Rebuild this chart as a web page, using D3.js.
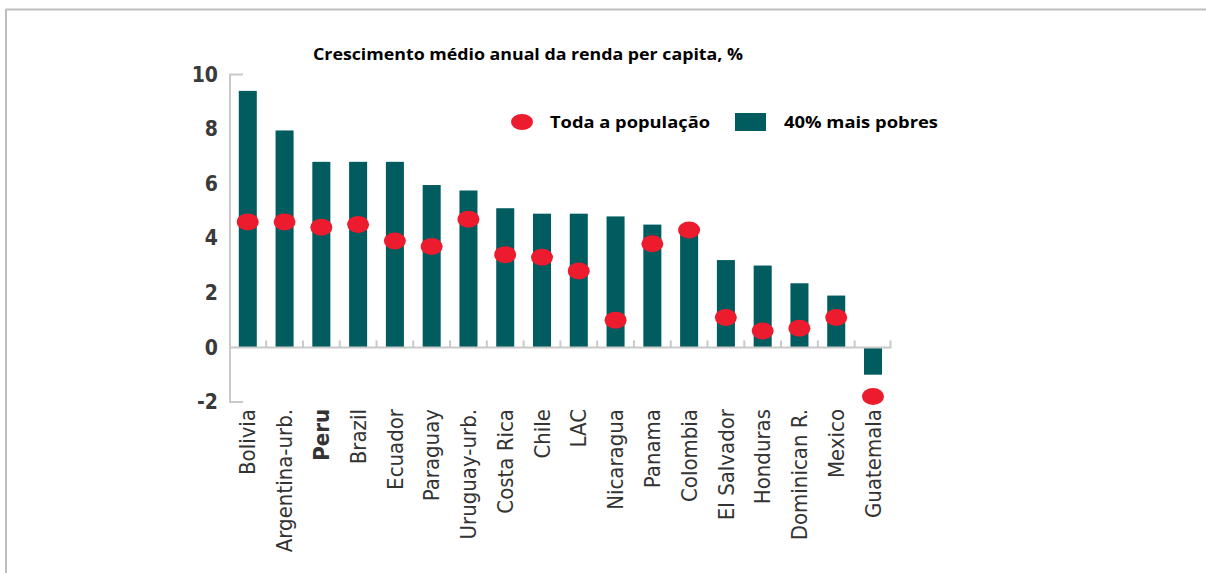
<!DOCTYPE html>
<html><head><meta charset="utf-8">
<script src="https://cdn.jsdelivr.net/npm/d3@7"></script>
<style>
html,body{margin:0;padding:0;background:#fff;}
svg{display:block;}
</style></head>
<body>
<svg id="chart" width="1206" height="573"></svg>
<script>
const categories = ["Bolivia","Argentina-urb.","Peru","Brazil","Ecuador","Paraguay","Uruguay-urb.","Costa Rica","Chile","LAC","Nicaragua","Panama","Colombia","El Salvador","Honduras","Dominican R.","Mexico","Guatemala"];
const bottom40 = [9.4,7.95,6.8,6.8,6.8,5.95,5.75,5.1,4.9,4.9,4.8,4.5,4.2,3.2,3.0,2.35,1.9,-1.0];
const totalPop = [4.6,4.6,4.4,4.5,3.9,3.7,4.7,3.4,3.3,2.8,1.0,3.8,4.3,1.1,0.6,0.7,1.1,-1.8];
const yTicks = [-2,0,2,4,6,8,10];
const titleText = "Crescimento médio anual da renda per capita, %";
const legendLabels = ["Toda a população","40% mais pobres"];

const teal = "#005c5f", red = "#ec1c2e", axisGray = "#c9c9c9";
const condFont = "'Liberation Sans Narrow', 'DejaVu Sans Condensed', sans-serif";
const svg = d3.select("#chart");

// frame
svg.append("line").attr("x1",6).attr("x2",1206).attr("y1",9.5).attr("y2",9.5).attr("stroke","#bdbdbd").attr("stroke-width",2);
svg.append("line").attr("x1",6).attr("x2",6).attr("y1",9).attr("y2",573).attr("stroke","#bdbdbd").attr("stroke-width",2);

const x = d3.scaleBand().domain(categories).range([229.4,891.4]).paddingInner(0.51).paddingOuter(0.255);
const y = d3.scaleLinear().domain([-2,10]).range([402,74.5]);

// y axis
const yAxis = d3.axisLeft(y).tickValues(yTicks).tickSize(0).tickPadding(12).tickFormat(d=>String(d));
const gy = svg.append("g").attr("transform","translate(230,0)").call(yAxis);
gy.attr("font-family",null);
gy.select(".domain").remove();
gy.selectAll("text").style("font-family",condFont).attr("font-weight","bold").attr("font-size","21px").attr("fill","#3a3a3a");
svg.append("path").attr("d",`M243,${y(10)}H230V${y(-2)}H243`).attr("fill","none").attr("stroke",axisGray).attr("stroke-width",2);

// bars
svg.append("g").selectAll("rect").data(categories).join("rect")
  .attr("x",d=>x(d)).attr("width",x.bandwidth())
  .attr("y",(d,i)=>y(Math.max(0,bottom40[i])))
  .attr("height",(d,i)=>Math.abs(y(bottom40[i])-y(0)))
  .attr("fill",teal);

// zero line with boundary ticks
const x0 = x.range()[0], x1 = x.range()[1];
svg.append("line").attr("x1",x0).attr("x2",x1).attr("y1",y(0)).attr("y2",y(0)).attr("stroke",axisGray).attr("stroke-width",2);
const bounds = categories.slice(1).map(c=>x(c)-x.step()*x.paddingInner()/2);
bounds.push(x1-1);
svg.append("g").selectAll("line").data(bounds).join("line")
  .attr("x1",d=>d).attr("x2",d=>d).attr("y1",y(0)-7).attr("y2",y(0))
  .attr("stroke",axisGray).attr("stroke-width",2);

// dots
svg.append("g").selectAll("ellipse").data(categories).join("ellipse")
  .attr("cx",d=>x(d)+x.bandwidth()/2).attr("cy",(d,i)=>y(totalPop[i]))
  .attr("rx",11).attr("ry",8.5).attr("fill",red);

// category labels
const xAxis = d3.axisBottom(x).tickSize(0).tickPadding(0);
const gx = svg.append("g").attr("transform",`translate(0,${y(-2)})`).call(xAxis);
gx.attr("font-family",null);
gx.select(".domain").remove();
gx.selectAll("text")
  .style("font-family",condFont)
  .attr("transform","rotate(-90)")
  .attr("x",-7).attr("y",0).attr("dy","0.35em")
  .attr("text-anchor","end")
  .attr("font-size","22px").attr("fill","#333")
  .attr("font-weight",d=>d==="Peru"?"bold":"normal");

// title
svg.append("text").attr("x",313).attr("y",60).text(titleText)
  .attr("font-family","Open Sans").attr("font-weight","bold").attr("font-size","16px").attr("fill","#000")
  .attr("textLength",430).attr("lengthAdjust","spacingAndGlyphs");

// legend
svg.append("ellipse").attr("cx",522).attr("cy",122).attr("rx",11).attr("ry",8).attr("fill",red);
svg.append("text").attr("x",550).attr("y",128).text(legendLabels[0])
  .attr("font-family","Open Sans").attr("font-weight","bold").attr("font-size","16.5px").attr("fill","#000")
  .attr("textLength",160).attr("lengthAdjust","spacingAndGlyphs");
svg.append("rect").attr("x",735).attr("y",113).attr("width",31).attr("height",18).attr("fill",teal);
svg.append("text").attr("x",784).attr("y",128).text(legendLabels[1])
  .attr("font-family","Open Sans").attr("font-weight","bold").attr("font-size","16.5px").attr("fill","#000")
  .attr("textLength",154).attr("lengthAdjust","spacingAndGlyphs");
</script>
</body></html>
